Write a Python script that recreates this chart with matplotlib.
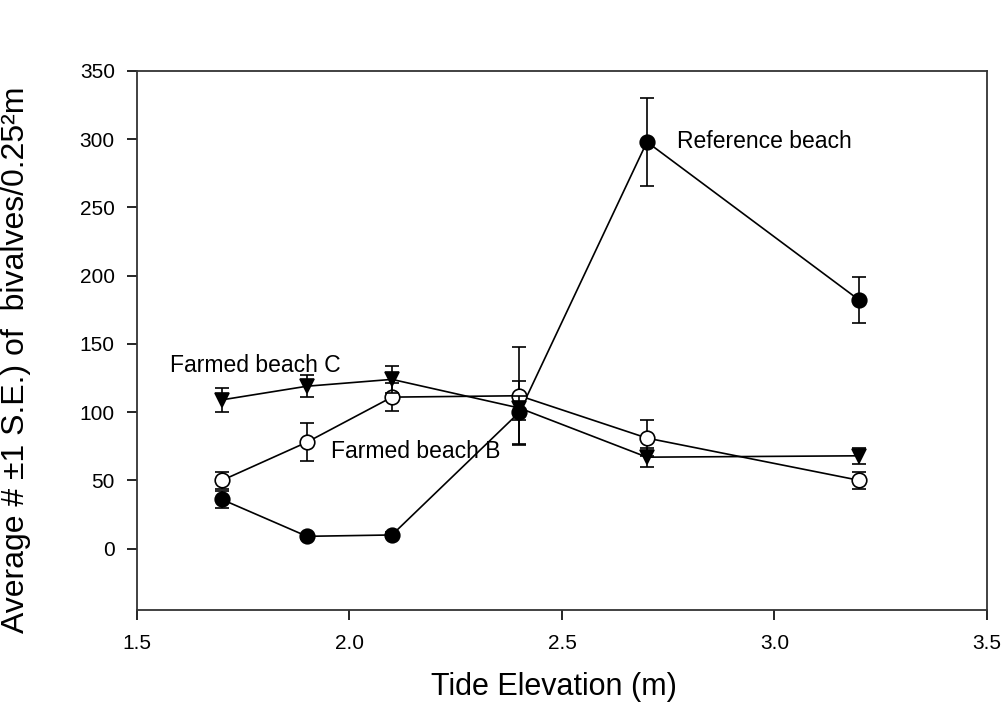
import matplotlib
matplotlib.use("Agg")
import matplotlib.pyplot as plt

plt.rcParams['font.family'] = ['Liberation Sans', 'DejaVu Sans']

# tide elevation (m)
elev = [1.7, 1.9, 2.1, 2.4, 2.7, 3.2]

# mean bivalves per 0.25 m2 and standard errors
ref_mean = [36, 9, 10, 100, 298, 182]
ref_se = [6, 2, 2, 23, 32, 17]

farm_b_mean = [50, 78, 111, 112, 81, 50]
farm_b_se = [6, 14, 10, 36, 13, 6]

farm_c_mean = [109, 119, 124, 103, 67, 68]
farm_c_se = [9, 8, 10, 9, 7, 6]

xticks = [1.5, 2.0, 2.5, 3.0, 3.5]
yticks = [0, 50, 100, 150, 200, 250, 300, 350]

fig = plt.figure(figsize=(10.05, 7.04), dpi=100)
ax = fig.add_axes([0.1363, 0.1335, 0.8457, 0.7657])

style = dict(color="k", lw=1.2, elinewidth=1.2, capsize=5, capthick=1.2,
             markersize=10.5, markeredgewidth=1.2, markeredgecolor="k")

ax.errorbar(elev, ref_mean, yerr=ref_se, fmt="-o", markerfacecolor="k", zorder=3, **style)
ax.errorbar(elev, farm_b_mean, yerr=farm_b_se, fmt="-o", markerfacecolor="white", zorder=4, **style)
ax.errorbar(elev, farm_c_mean, yerr=farm_c_se, fmt="-v", markerfacecolor="k", zorder=5, **style)

ax.text(2.77, 298, "Reference beach", fontsize=16.5, va="center", ha="left")
ax.text(1.577, 134, "Farmed beach C", fontsize=16.5, va="center", ha="left")
ax.text(1.957, 71, "Farmed beach B", fontsize=16.5, va="center", ha="left")

ax.set_xlim(1.5, 3.5)
ax.set_ylim(-45, 350)
ax.set_xticks(xticks)
ax.set_xticklabels(["%.1f" % t for t in xticks])
ax.set_yticks(yticks)

ax.tick_params(direction="out", length=7, width=1.2, labelsize=15, colors="k")
ax.tick_params(axis="x", pad=10)
ax.tick_params(axis="y", pad=9)
for s in ax.spines.values():
    s.set_linewidth(1.3)
    s.set_color("#333333")

ax.set_xlabel("Tide Elevation (m)", fontsize=22)
ax.xaxis.set_label_coords(0.49, -0.115)
ax.set_ylabel("Average # \u00b11 S.E.) of  bivalves/0.25\u00b2m", fontsize=23)
ax.yaxis.set_label_coords(-0.125, 0.465)

fig.savefig("out.png", dpi=100)
